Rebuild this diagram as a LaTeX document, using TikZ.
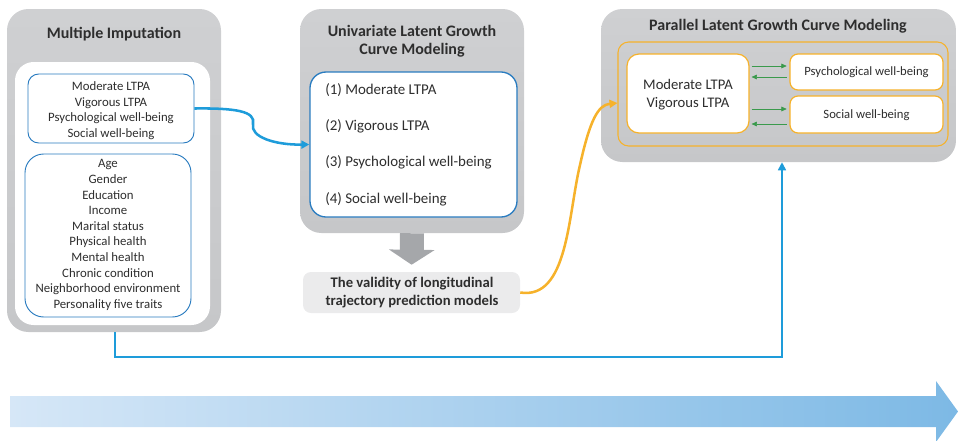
\documentclass[tikz,border=0pt]{standalone}
\usepackage{fontspec}
\setmainfont{Carlito}
\usetikzlibrary{arrows.meta,positioning,fit}

\definecolor{panelgray}{HTML}{C6C7C9}
\definecolor{panelgraylight}{HTML}{CFD0D2}
\definecolor{arrowgray}{HTML}{A5A7AA}
\definecolor{valgray}{HTML}{EBEBEC}
\definecolor{boxblue}{HTML}{2A7CC0}
\definecolor{linkblue}{HTML}{1E9CDA}
\definecolor{linkorange}{HTML}{F6B22B}
\definecolor{linkgreen}{HTML}{3A9A4C}
\definecolor{textgray}{HTML}{2E2E2E}
\definecolor{timelight}{HTML}{D6E7F7}
\definecolor{timedark}{HTML}{7DB9E5}

\tikzset{
  panel/.style={top color=panelgraylight, bottom color=panelgray, draw=none,
    rounded corners=16pt, inner sep=0pt},
  paneltitle/.style={font=\fontsize{12}{13.5}\selectfont\bfseries, text=textgray, align=center},
  whitebox/.style={fill=white, rounded corners=14pt, inner sep=0pt},
  bluebox/.style={fill=white, draw=boxblue, line width=0.7pt, inner sep=0pt},
  orangebox/.style={fill=white, draw=linkorange, line width=0.9pt, rounded corners=6pt, inner sep=0pt},
  listtext/.style={align=center, inner sep=0pt, text=textgray, font=\fontsize{9.6}{11.7}\selectfont},
  itemtext/.style={anchor=west, inner sep=0pt, text=textgray, font=\fontsize{11.2}{13}\selectfont},
  greenarrow/.style={draw=linkgreen, line width=0.5pt, -{Triangle[length=4pt,width=3.5pt]}},
  bluelink/.style={draw=linkblue, line width=1.9pt, -{Triangle[length=6pt,width=6pt]}},
  orangelink/.style={draw=linkorange, line width=1.9pt, -{Triangle[length=6pt,width=6pt]}},
}

\begin{document}
\begin{tikzpicture}[x=0.75pt,y=-0.75pt]
  \useasboundingbox (0,0) rectangle (958,440);

  % Multiple imputation panel
  \node[panel, fit={(7,9) (221,332)}] (mi) {};
  \node[paneltitle] (mititle) at (114,34) {Multiple Imputation};
  \node[whitebox, fit={(15,62) (210,325)}] (miin) {};
  \node[bluebox, rounded corners=8pt, fit={(28,74) (194,143)}] (outc) {};
  \node[listtext] (outctext) at (111,110.5)
    {Moderate LTPA\\Vigorous LTPA\\Psychological well-being\\Social well-being};
  \node[bluebox, rounded corners=14pt, fit={(25,154) (191,317)}] (covs) {};
  \node[listtext] (covstext) at (108,235)
    {Age\\Gender\\Education\\Income\\Marital status\\Physical health\\Mental health\\
     Chronic condition\\Neighborhood environment\\Personality five traits};

  % Univariate LGCM panel
  \node[panel, fit={(300,9) (524,233)}] (uni) {};
  \node[paneltitle] (unititle) at (412,41) {Univariate Latent Growth\\Curve Modeling};
  \node[bluebox, line width=1pt, rounded corners=12pt, fit={(310,72) (517,217)}] (uniin) {};
  \foreach \t [count=\i from 0] in {{(1) Moderate LTPA},{(2) Vigorous LTPA},
      {(3) Psychological well-being},{(4) Social well-being}}
    \node[itemtext] (item\i) at (325,90+\i*36.3) {\t};

  % validity check below the univariate models
  \node[fill=valgray, rounded corners=6pt, inner sep=0pt, fit={(303,272) (520,313)}] (val) {};
  \node[align=center, inner sep=0pt, text=textgray, font=\fontsize{11}{14}\selectfont\bfseries]
    (valtext) at (412,292.5) {The validity of longitudinal\\trajectory prediction models};
  \draw[arrowgray, line width=18pt, shorten >=5.25pt,
    -{Triangle[length=11.25pt,width=33.75pt]}] (uni.south) -- (val.north);

  % Parallel LGCM panel
  \node[panel, fit={(601,9) (956,162)}] (plgc) {};
  \node[paneltitle] (plgctitle) at (778,26) {Parallel Latent Growth Curve Modeling};
  \node[draw=linkorange, line width=0.8pt, rounded corners=8pt, inner sep=0pt,
    fit={(618,42) (948,146)}] (frame) {};
  \node[orangebox, rounded corners=9pt, fit={(627,54) (749,133)}] (ltpa) {};
  \node[listtext, font=\fontsize{11}{13}\selectfont] (ltpatext) at (688,94.5)
    {Moderate LTPA\\Vigorous LTPA};
  \node[orangebox, fit={(790,54) (943,90)}] (pwb) {};
  \node[listtext, font=\fontsize{9.5}{11}\selectfont] (pwbtext) at (866.5,72) {Psychological well-being};
  \node[orangebox, fit={(790,96) (943,133)}] (swb) {};
  \node[listtext, font=\fontsize{9.5}{11}\selectfont] (swbtext) at (866.5,115) {Social well-being};

  % cross-lagged links
  \draw[greenarrow, shorten <=1.5pt, shorten >=2pt] (ltpa.east |- 0,66) -- (pwb.west |- 0,66);
  \draw[greenarrow, shorten <=2pt, shorten >=1.5pt] (pwb.west |- 0,77) -- (ltpa.east |- 0,77);
  \draw[greenarrow, shorten <=1.5pt, shorten >=2pt] (ltpa.east |- 0,109) -- (swb.west |- 0,109);
  \draw[greenarrow, shorten <=2pt, shorten >=1.5pt] (swb.west |- 0,124) -- (ltpa.east |- 0,124);

  % flow between panels
  \draw[bluelink] (outc.east) .. controls (235,108) and (256,111) .. (253,124)
    .. controls (250,137) and (275,145) .. (uniin.west);
  \draw[orangelink] (val.east) .. controls (568,300) and (568,215) .. (580,165)
    .. controls (590,120) and (598,105) .. ([yshift=-6.75pt]frame.west);
  \draw[draw=linkblue, line width=1.2pt, -{Triangle[length=6pt,width=6pt]}]
    (mi.south -| 115,0) |- (782,357) -- (plgc.south -| 782,0);

  % time axis
  \shade[left color=timelight, right color=timedark]
    (10,396) -- (936,396) -- (936,381) -- (958,411.5) -- (936,442) -- (936,427) -- (10,427) -- cycle;
\end{tikzpicture}
\end{document}
